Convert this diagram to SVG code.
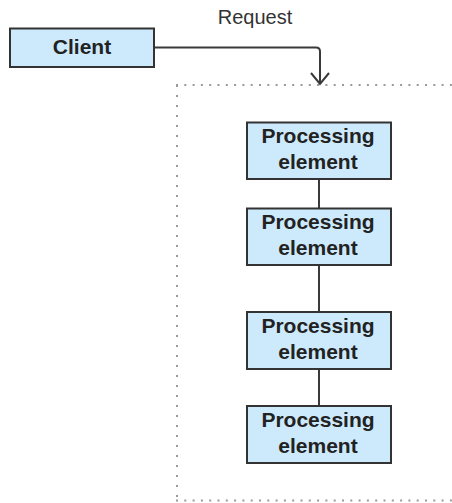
<svg xmlns="http://www.w3.org/2000/svg" width="452" height="503" viewBox="0 0 452 503">
<defs>
<style>
.node rect{fill:#cdeafc;stroke:#333;stroke-width:2}
.node text{font-family:"Liberation Sans",Arial,sans-serif;font-weight:bold;font-size:21px;fill:#222;text-anchor:middle}
.conn{fill:none;stroke:#3a3a3a;stroke-width:2}
.dot{fill:none;stroke:#9a9a9a;stroke-width:2}
.lbl{font-family:"Liberation Sans",Arial,sans-serif;font-size:20px;fill:#333;text-anchor:middle}
</style>
<marker id="arr" markerWidth="14" markerHeight="14" viewBox="0 0 14 14" refX="12" refY="7" orient="auto" markerUnits="userSpaceOnUse">
<path d="M1,-1 L12,7 L1,15" fill="none" stroke="#3a3a3a" stroke-width="2"/>
</marker>
</defs>
<g id="boundary">
<line class="dot" x1="176" y1="85" x2="452" y2="85" stroke-dasharray="2 6.3"/>
<line class="dot" x1="177" y1="85" x2="177" y2="501" stroke-dasharray="2 8"/>
<line class="dot" x1="176" y1="500.5" x2="452" y2="500.5" stroke-dasharray="2 6.3"/>
</g>
<g id="connectors">
<path class="conn" d="M154,47.5 H316 Q320,47.5 320,51.5 V84" />
<path class="conn" d="M311,73 L320,84 L329,73"/>
<line class="conn" x1="319" y1="179" x2="319" y2="208"/>
<line class="conn" x1="319" y1="265" x2="319" y2="312"/>
<line class="conn" x1="319" y1="369" x2="319" y2="406"/>
<text class="lbl" x="255" y="24">Request</text>
</g>
<g id="client" class="node">
<rect x="10" y="28.5" width="144" height="38.5"/>
<text x="82" y="54">Client</text>
</g>
<g id="pe1" class="node">
<rect x="247" y="122.5" width="144" height="56.5"/>
<text x="318" y="143">Processing</text>
<text x="318" y="168.5">element</text>
</g>
<g id="pe2" class="node">
<rect x="247" y="208.5" width="144" height="56.5"/>
<text x="318" y="229">Processing</text>
<text x="318" y="254.5">element</text>
</g>
<g id="pe3" class="node">
<rect x="247" y="312" width="144" height="57"/>
<text x="318" y="333">Processing</text>
<text x="318" y="358.5">element</text>
</g>
<g id="pe4" class="node">
<rect x="247" y="406" width="144" height="57"/>
<text x="318" y="427">Processing</text>
<text x="318" y="452.5">element</text>
</g>
</svg>
